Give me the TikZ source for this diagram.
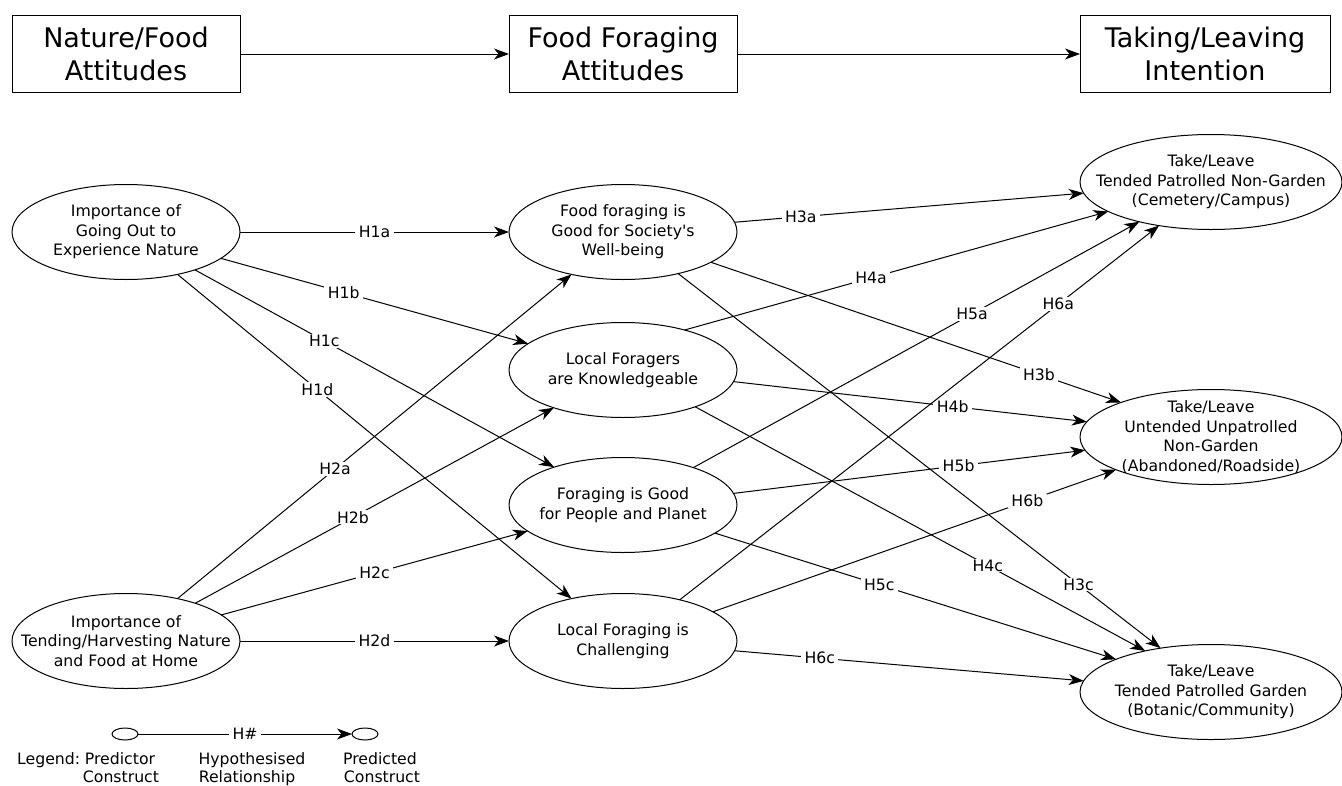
\documentclass[tikz,border=0pt]{standalone}
\usepackage{fontspec}
\setmainfont{DejaVu Sans}[Ligatures=TeXOff]
\usetikzlibrary{arrows.meta,shapes.geometric}
\begin{document}
\begin{tikzpicture}[x=1pt,y=-1pt,
  topbox/.style={draw, line width=1pt, minimum width=228pt, minimum height=77pt, inner sep=0pt, outer sep=0pt, align=center, font=\fontsize{27}{33}\selectfont},
  cons/.style={ellipse, draw, line width=1pt, minimum width=228pt, minimum height=95pt, inner sep=0pt, outer sep=0pt},
  wcons/.style={cons, minimum width=262pt},
  ctext/.style={align=center, font=\fontsize{15.7}{19.4}\selectfont, inner sep=0pt},
  hyp/.style={line width=1pt, -{Stealth[length=15pt,width=11pt,inset=4.5pt]}},
  lab/.style={fill=white, inner xsep=3.5pt, inner ysep=1pt, font=\fontsize{15.7}{19}\selectfont},
  legtext/.style={anchor=base, inner sep=0pt, font=\fontsize{15.7}{19}\selectfont},
  ]
\useasboundingbox (0,0) rectangle (1342,785);

% top level boxes
\node[topbox] (B1) at (126,54) {Nature/Food\\Attitudes};
\node[topbox] (B2) at (623,54) {Food Foraging\\Attitudes};
\node[topbox, minimum width=250pt] (B3) at (1205,54) {Taking/Leaving\\Intention};
\draw[hyp] (B1) -- (B2);
\draw[hyp] (B2) -- (B3);

% constructs
\node[cons, label={[ctext]center:Importance of\\Going Out to\\Experience Nature}] (GO) at (126,232) {};
\node[cons, label={[ctext]center:Importance of\\Tending/Harvesting Nature\\and Food at Home}] (TH) at (126,641) {};
\node[cons, label={[ctext]center:Food foraging is\\Good for Society's\\Well-being}] (FF) at (623,232) {};
\node[cons, label={[ctext]center:Local Foragers\\are Knowledgeable}] (LK) at (623,370) {};
\node[cons, label={[ctext]center:Foraging is Good\\for People and Planet}] (FG) at (623,505) {};
\node[cons, label={[ctext]center:Local Foraging is\\Challenging}] (LC) at (623,641) {};
\node[wcons, label={[ctext]center:Take/Leave\\Tended Patrolled Non-Garden\\(Cemetery/Campus)}] (R1) at (1211,182) {};
\node[wcons, label={[ctext]center:Take/Leave\\Untended Unpatrolled\\Non-Garden\\(Abandoned/Roadside)}] (R2) at (1211,437) {};
\node[wcons, label={[ctext]center:Take/Leave\\Tended Patrolled Garden\\(Botanic/Community)}] (R3) at (1211,692) {};

% H1
\draw[hyp] (GO) -- node[lab,pos=0.50] (h1a) {H1a} (FF);
\draw[hyp] (GO) -- node[lab,pos=0.40] (h1b) {H1b} (LK);
\draw[hyp] (GO) -- node[lab,pos=0.36] (h1c) {H1c} (FG);
\draw[hyp] (GO) -- node[lab,pos=0.355] (h1d) {H1d} (LC);
% H2
\draw[hyp] (TH) -- node[lab,pos=0.40] (h2a) {H2a} (FF);
\draw[hyp] (TH) -- node[lab,pos=0.44] (h2b) {H2b} (LK);
\draw[hyp] (TH) -- node[lab,pos=0.50] (h2c) {H2c} (FG);
\draw[hyp] (TH) -- node[lab,pos=0.50] (h2d) {H2d} (LC);
% H3
\draw[hyp] (FF.5) -- node[lab,pos=0.19] (h3a) {H3a} (R1.185.4);
\draw[hyp] (FF.-19.2) -- node[lab,pos=0.80] (h3b) {H3b} (R2.159.9);
\draw[hyp] (FF.-37.4) -- node[lab,pos=0.83] (h3c) {H3c} (R3.139.1);
% H4
\draw[hyp] (LK.33.3) -- node[lab,pos=0.44] (h4a) {H4a} (R1.196.2);
\draw[hyp] (LK.-6.1) -- node[lab,pos=0.62] (h4b) {H4b} (R2.173.1);
\draw[hyp] (LK.-27.9) -- node[lab,pos=0.65] (h4c) {H4c} (R3.148.2);
% H5
\draw[hyp] (FG.28.5) -- node[lab,pos=0.625] (h5a) {H5a} (R1.209.7);
\draw[hyp] (FG.6.6) -- node[lab,pos=0.64] (h5b) {H5b} (R2.186.4);
\draw[hyp] (FG.-17.3) -- node[lab,pos=0.41] (h5c) {H5c} (R3.161.7);
% H6
\draw[hyp] (LC.36.7) -- node[lab,pos=0.79] (h6a) {H6a} (R1.220.1);
\draw[hyp] (LC.18.4) -- node[lab,pos=0.78] (h6b) {H6b} (R2.199.7);
\draw[hyp] (LC.-5.5) -- node[lab,pos=0.244] (h6c) {H6c} (R3.175.6);

% legend
\node[ellipse, draw, line width=1pt, minimum width=26pt, minimum height=12pt, inner sep=0pt, outer sep=0pt] (LP) at (125,734) {};
\node[ellipse, draw, line width=1pt, minimum width=26pt, minimum height=12pt, inner sep=0pt, outer sep=0pt] (LQ) at (365,734) {};
\draw[hyp] (LP) -- node[lab,pos=0.5] (hh) {H\#} (LQ);
\node[legtext, anchor=base west] (lg) at (17,764) {Legend:};
\node[legtext] (lp1) at (120,764) {Predictor};
\node[legtext] (lp2) at (121,782) {Construct};
\node[legtext] (lr1) at (252,764) {Hypothesised};
\node[legtext] (lr2) at (247,782) {Relationship};
\node[legtext] (lq1) at (380,764) {Predicted};
\node[legtext] (lq2) at (382,782) {Construct};
\end{tikzpicture}
\end{document}
